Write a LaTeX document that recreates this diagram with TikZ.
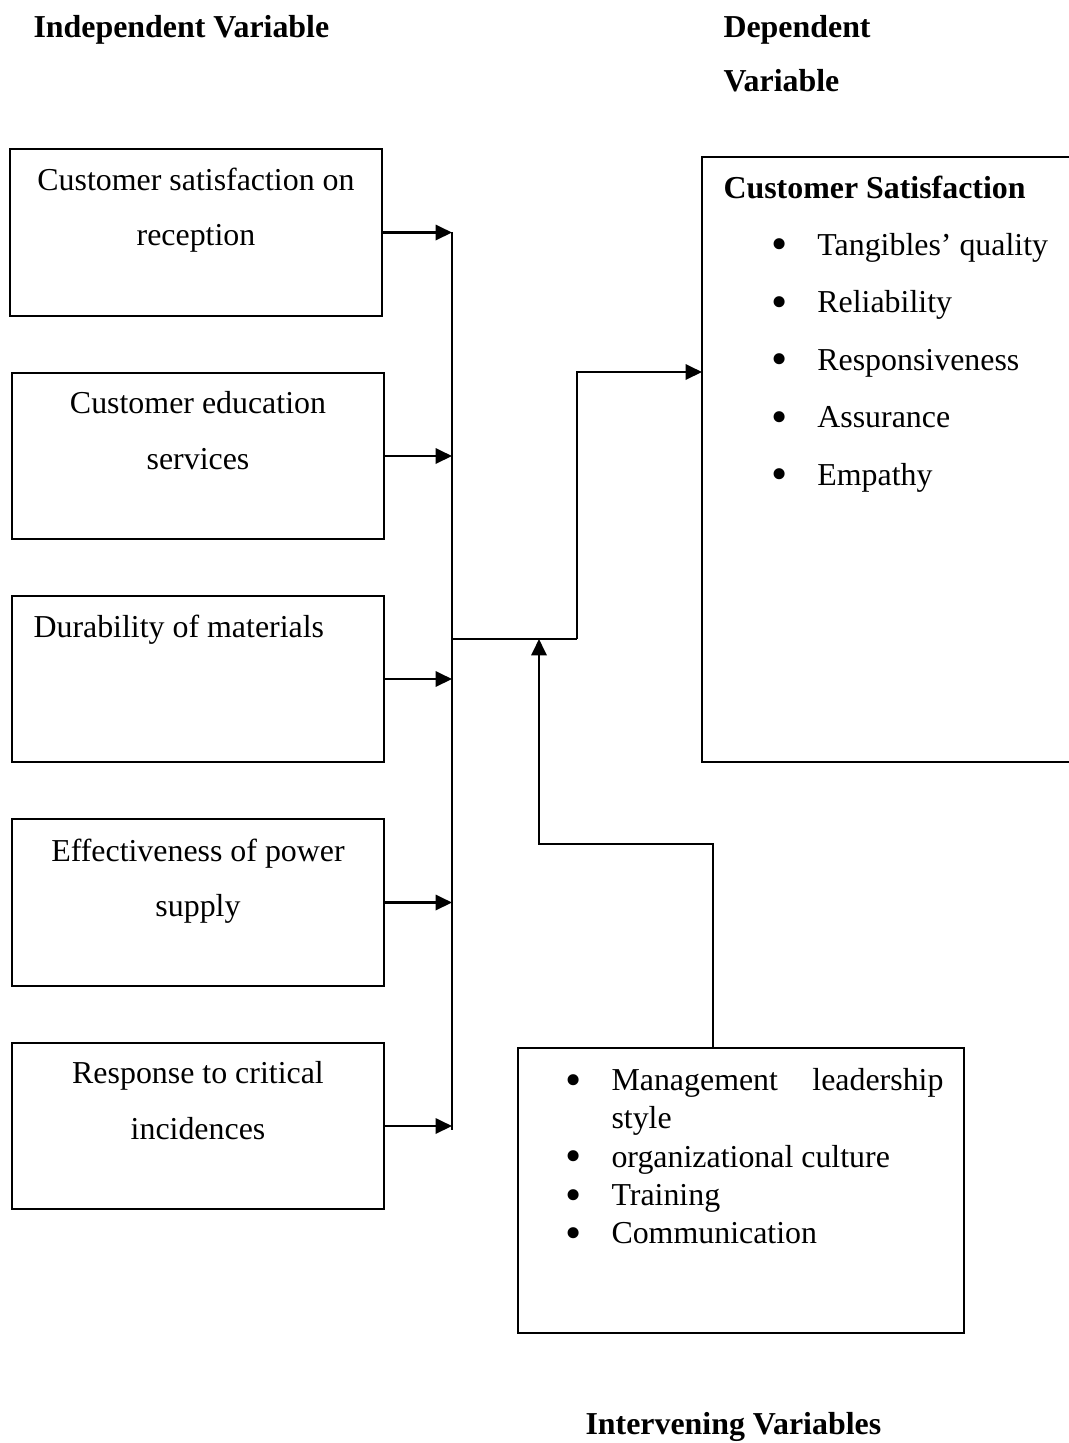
\documentclass[tikz,border=0pt]{standalone}
\usepackage{graphicx}
\usepackage{fontspec}
\setmainfont{Liberation Serif}
\usetikzlibrary{arrows.meta}
\newcommand{\itm}[1]{\makebox[17.3pt][l]{\smash{\raisebox{-1.7pt}{\scalebox{1.45}{\textbullet}}}}#1}

\begin{document}
\begin{tikzpicture}[x=0.3762pt,y=-0.3762pt,
  box/.style={draw,line width=0.75pt,rectangle,inner sep=0pt,minimum width=139.9pt,minimum height=62.6pt},
  boxtext/.style={inner sep=0pt,anchor=north,align=center,font=\fontsize{12}{21}\selectfont},
  head/.style={inner sep=0pt,anchor=base west,font=\fontsize{12}{14}\selectfont\bfseries},
  arr/.style={line width=0.8pt,-{Triangle[length=6.2pt,width=5.8pt]}},
  link/.style={line width=0.8pt}]
  \useasboundingbox (0,0) rectangle (1069,1443);
  % headings
  \node[head] (indep) at (33,37) {Independent Variable};
  \node[head] (dep1) at (723,37) {Dependent};
  \node[head] (dep2) at (723,91) {Variable};
  \node[head] (interv) at (585,1434) {Intervening Variables};
  % independent variables
  \node[box] (reception) at (196,232.5) {};
  \node[box] (education) at (198,456) {};
  \node[box] (materials) at (198,679) {};
  \node[box] (power) at (198,902.5) {};
  \node[box] (incidents) at (198,1126) {};
  \node[boxtext] (receptiontxt) at (196,167) {Customer satisfaction on\\reception};
  \node[boxtext] (educationtxt) at (198,391) {Customer education\\services};
  \node[boxtext,anchor=north west] (materialstxt) at (33,614) {Durability of materials};
  \node[boxtext] (powertxt) at (198,838) {Effectiveness of power\\supply};
  \node[boxtext] (incidentstxt) at (198,1061) {Response to critical\\incidences};
  % dependent variable
  \node[box,minimum width=139.2pt,minimum height=227.6pt] (satisfaction) at (887,459.5) {};
  \node[inner sep=0pt,anchor=north west,align=left,font=\fontsize{12}{21.6}\selectfont] (satisfactiontxt) at (723,175)
    {\textbf{Customer Satisfaction}\\
     \hspace*{18pt}\itm{Tangibles’ quality}\\
     \hspace*{18pt}\itm{Reliability}\\
     \hspace*{18pt}\itm{Responsiveness}\\
     \hspace*{18pt}\itm{Assurance}\\
     \hspace*{18pt}\itm{Empathy}};
  % intervening variables
  \node[box,minimum width=167.8pt,minimum height=107.2pt] (intervening) at (741,1190.5) {};
  \node[inner sep=0pt,anchor=north west,align=left,font=\fontsize{12}{14.4}\selectfont] (interveningtxt) at (565,1068)
    {\itm{\makebox[124.9pt][s]{Management\hfill leadership}}\\
     \hspace*{17.3pt}style\\
     \itm{organizational culture}\\
     \itm{Training}\\
     \itm{Communication}};
  % connectors
  \coordinate (bustop) at (452,232);
  \coordinate (busbot) at (452,1130);
  \coordinate (junc) at (452,639);
  \coordinate (jog) at (577,639);
  \coordinate (satin) at (702,372);
  \coordinate (intout) at (713,1048);
  \coordinate (intbend) at (539,844);
  \draw[line width=0.6pt] (bustop) -- (busbot);
  \foreach \b in {reception,education,materials,power,incidents}
    \draw[arr] (\b.east) -- (\b.east -| bustop);
  \draw[link] (junc) -- (jog);
  \draw[arr] (jog) |- (satin);
  \draw[arr] (intout) |- (intbend) -- (intbend |- junc);
\end{tikzpicture}
\end{document}
